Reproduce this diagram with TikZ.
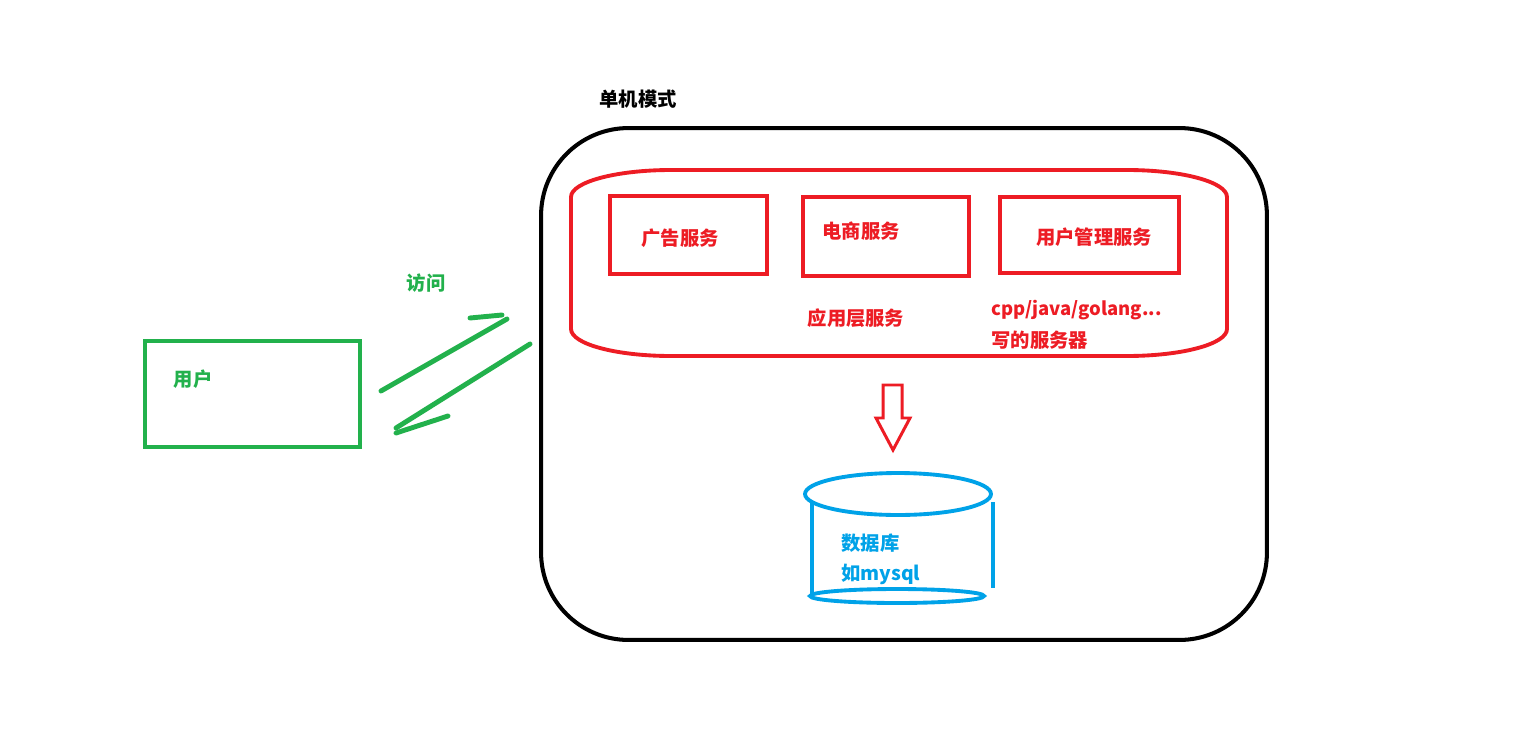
\documentclass[tikz,border=0pt]{standalone}
\usepackage{fontspec}
\setmainfont{Noto Sans CJK SC}
\usetikzlibrary{positioning}
\definecolor{paintred}{RGB}{237,28,36}
\definecolor{paintgreen}{RGB}{34,177,76}
\definecolor{paintblue}{RGB}{0,162,232}

\begin{document}
\begin{tikzpicture}[x=0.02cm, y=-0.02cm,
  every node/.style={font=\fontsize{11}{13}\selectfont\bfseries, inner sep=0pt},
  frame/.style={draw=black, line width=2.3pt, rounded corners=1.75cm,
                minimum width=14.52cm, minimum height=10.24cm},
  layerline/.style={draw=paintred, line width=2.2pt},
  corner/.style={x radius=2cm, y radius=0.54cm},
  svcbox/.style={draw=paintred, line width=2.2pt},
  userbox/.style={draw=paintgreen, line width=2.2pt},
  redtxt/.style={text=paintred},
  greentxt/.style={text=paintgreen},
  bluetxt/.style={text=paintblue, anchor=west},
  stroke/.style={draw=paintgreen, line width=2.8pt, line cap=round},
  dbline/.style={draw=paintblue, line width=2.2pt},
  blockarr/.style={draw=paintred, line width=1.7pt, line join=miter}
]
\fill[white] (0,0) rectangle (1515,754);
\useasboundingbox (0,0) rectangle (1515,754);

\node (modetitle) at (638,99) {单机模式};
\node[frame] (mode) at (904,384) {};

\draw[layerline] (671,170) -- (1127,170) arc[start angle=90, end angle=0, corner]
  -- (1227,329) arc[start angle=0, end angle=-90, corner]
  -- (671,356) arc[start angle=270, end angle=180, corner]
  -- (571,197) arc[start angle=180, end angle=90, corner] -- cycle;
\node[svcbox, minimum width=3.14cm, minimum height=1.56cm] (adbox) at (688.5,235) {};
\node[svcbox, minimum width=3.32cm, minimum height=1.58cm] (shopbox) at (886,236.5) {};
\node[svcbox, minimum width=3.58cm, minimum height=1.52cm] (umbox) at (1089.5,235) {};
\node[redtxt] (ad) at (680,238) {广告服务};
\node[redtxt] (shop) at (861,231) {电商服务};
\node[redtxt] (um) at (1094,237) {用户管理服务};
\node[redtxt] (applabel) at (856,318) {应用层服务};
\node[redtxt, anchor=west, font=\fontsize{10.5}{13}\selectfont\bfseries] (lang) at (991,310) {cpp/java/golang...};
\node[redtxt, anchor=west] (written) at (991,340) {写的服务器};

\draw[blockarr] (883,385) -- (902,385) -- (902,418) -- (910,418)
  -- (893,450) -- (876,418) -- (883,418) -- cycle;

\draw[dbline] (898,494) ellipse [x radius=1.86cm, y radius=0.42cm];
\draw[dbline] (812,502) -- (812,597);
\draw[dbline] (993,502) -- (993,588);
\draw[dbline] (897,596) ellipse [x radius=1.74cm, y radius=0.14cm];
\node[bluetxt] (db) at (841,543) {数据库};
\node[bluetxt] (dbname) at (841,574) {如mysql};

\node[userbox, minimum width=4.3cm, minimum height=2.12cm] (userbox) at (252.5,394) {};
\node[greentxt] (user) at (193,379) {用户};
\node[greentxt] (visit) at (426,283) {访问};

\coordinate (reqfrom) at (381,391);
\coordinate (reqto) at (507,319);
\coordinate (reqhead) at (470,318);
\coordinate (reqhead2) at (502,315);
\coordinate (respfrom) at (530,344);
\coordinate (respto) at (396,428);
\coordinate (resphead) at (396,433);
\coordinate (resphead2) at (448,416);
\draw[stroke] (reqfrom) -- (reqto);
\draw[stroke] (reqhead) -- (reqhead2);
\draw[stroke] (respfrom) -- (respto);
\draw[stroke] (resphead) -- (resphead2);
\end{tikzpicture}
\end{document}
